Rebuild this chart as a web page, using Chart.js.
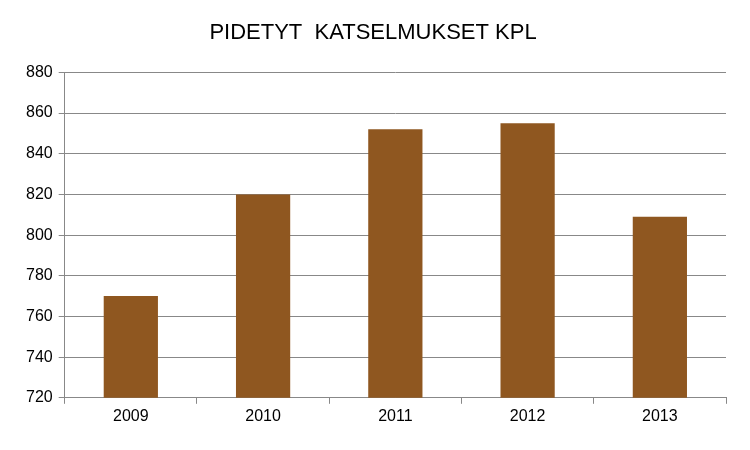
<!DOCTYPE html>
<html>
<head>
<meta charset="utf-8">
<script src="https://cdn.jsdelivr.net/npm/chart.js@4"></script>
<style>
  html, body { margin: 0; padding: 0; background: #fff; }
  #wrap { width: 750px; height: 450px; }
</style>
</head>
<body>
<div id="wrap"><canvas id="katselmukset"></canvas></div>
<script>
// Data
const vuodet = ['2009', '2010', '2011', '2012', '2013'];
const katselmukset = [770, 820, 852, 855, 809];

const ctx = document.getElementById('katselmukset').getContext('2d');
const chart = new Chart(ctx, {
    type: 'bar',
    data: {
        labels: vuodet,
        datasets: [{
            label: 'Pidetyt katselmukset kpl',
            data: katselmukset,
            backgroundColor: '#8F5720',
            categoryPercentage: 1,
            barPercentage: 0.41
        }]
    },
    options: {
        responsive: true,
        maintainAspectRatio: false,
        animation: false,
        layout: { padding: { left: 20, right: 24, top: 12, bottom: 21 } },
        plugins: {
            legend: { display: false },
            title: {
                display: true,
                text: 'PIDETYT  KATSELMUKSET KPL',
                color: '#000',
                font: { family: 'Liberation Sans', size: 22, weight: 'normal' },
                padding: { top: 8, bottom: 26 }
            }
        },
        scales: {
            x: {
                grid: { display: true, drawOnChartArea: false, color: '#888', tickLength: 6, offset: true },
                border: { color: '#888' },
                ticks: { color: '#000', font: { family: 'Liberation Sans', size: 16 } }
            },
            y: {
                min: 720,
                max: 880,
                ticks: { stepSize: 20, color: '#000', font: { family: 'Liberation Sans', size: 16 }, padding: 6 },
                grid: { color: '#888', tickLength: 6 },
                border: { color: '#888' }
            }
        }
    }
});
</script>
</body>
</html>
